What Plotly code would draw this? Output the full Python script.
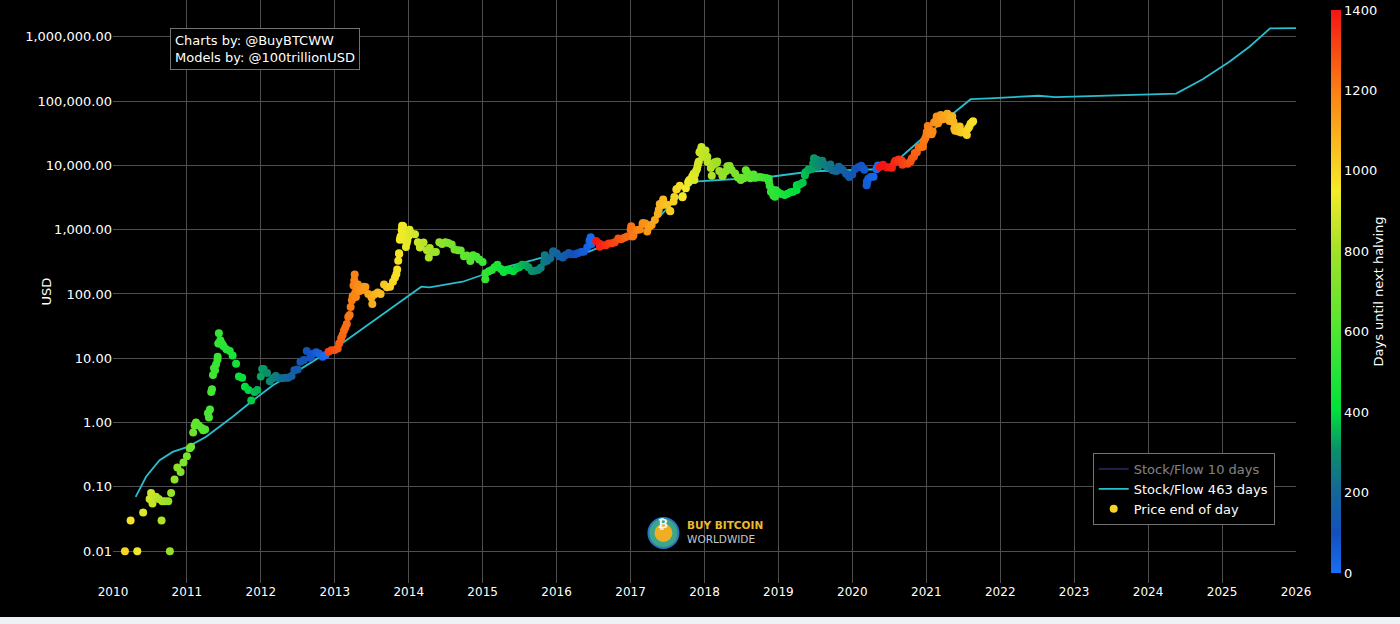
import numpy as np
import pandas as pd
import plotly.graph_objects as go

# ---------------- data ----------------
HALVINGS = ["2012-11-28", "2016-07-09", "2020-05-11", "2024-04-20"]

# sparse early prints (USD)
EARLY_DATES = ["2010-03-01", "2010-03-29", "2010-05-01", "2010-05-30", "2010-08-29", "2010-10-09"]
EARLY_PRICES = [0.01, 0.03, 0.01, 0.04, 0.03, 0.01]

# semi-monthly end-of-day prices (1st and 15th of each month)
P2010 = [0.065, 0.055, 0.07, 0.065, 0.06, 0.06, 0.06, 0.08, 0.13, 0.20, 0.17, 0.24]  # from Jul
P2011 = [0.30, 0.40, 0.70, 1.00, 0.90, 0.82, 0.78, 1.40, 3.0, 7.0, 9.5, 19.0,
         15.4, 13.8, 13.0, 11.0, 8.2, 5.2, 5.0, 3.6, 3.2, 2.2, 3.0, 3.2]
P2012 = [5.2, 6.8, 5.9, 4.4, 4.9, 5.3, 4.9, 4.9, 5.0, 5.0, 5.3, 6.5,
         6.7, 8.8, 9.4, 13.0, 10.2, 11.8, 12.4, 11.8, 10.6, 11.1, 12.6, 13.3]
P2013 = [13.4, 14.2, 20.4, 27.0, 34.0, 47.0, 93.0, 90.0, 110, 114, 128, 100,
         88, 98, 105, 100, 140, 127, 130, 155, 205, 420, 955, 870]
P2014 = [800, 870, 850, 640, 560, 630, 480, 520, 450, 450, 640, 600,
         640, 620, 590, 490, 480, 475, 385, 395, 325, 400, 380, 345]
P2015 = [315, 210, 225, 235, 260, 285, 245, 220, 235, 235, 225, 250,
         260, 285, 280, 260, 228, 230, 237, 255, 315, 330, 360, 445]
P2016 = [430, 385, 370, 405, 435, 415, 415, 430, 450, 455, 535, 690,
         675, 665, 605, 570, 575, 610, 615, 640, 730, 710, 750, 780]
P2017 = [1000, 820, 985, 1010, 1220, 1250, 1090, 1180, 1420, 1750, 2400, 2450,
         2450, 1950, 2750, 4200, 4800, 3300, 4400, 5700, 6700, 7300, 10900, 17500]
P2018 = [13500, 13600, 9100, 10200, 10900, 8200, 6900, 8000, 9200, 8500, 7500, 6500,
         6400, 6300, 7600, 6300, 7200, 6500, 6600, 6500, 6350, 5600, 4200, 3250]
P2019 = [3800, 3600, 3450, 3620, 3820, 3900, 4150, 5050, 5350, 7800, 8550, 8800,
         10500, 10900, 10400, 10300, 9750, 10300, 8300, 8150, 9150, 8500, 7400, 7100]
P2020 = [7200, 8800, 9400, 9900, 8550, 5400, 6600, 6650, 8800, 9400, 10200, 9450,
         9250, 9150, 11750, 11850, 11900, 10800, 10600, 11500, 13750, 15950, 19200, 19400]
P2021 = [29400, 36800, 33500, 48700, 49600, 55900, 59000, 62700,
         57800, 46700, 36700, 40200, 33500, 31800, 39900, 47000]  # to Aug

# additional daily prints (spikes, crashes, fast moves)
EXTRA_DATES = [
    "2010-07-08",
    "2011-01-22", "2011-02-08", "2011-03-22",
    "2011-04-20", "2011-04-25", "2011-05-05", "2011-05-10", "2011-05-20", "2011-05-25",
    "2011-06-02", "2011-06-05", "2011-06-08", "2011-06-11", "2011-06-19", "2011-06-25",
    "2012-01-08",
    "2013-01-22", "2013-02-08",
    "2013-02-22", "2013-03-08", "2013-03-20", "2013-03-26", "2013-03-30", "2013-04-03",
    "2013-04-07", "2013-04-09", "2013-04-12", "2013-04-20", "2013-04-25", "2013-05-05",
    "2013-05-25", "2013-07-05", "2013-10-25", "2013-11-05", "2013-11-10", "2013-11-14",
    "2013-11-18", "2013-11-21", "2013-11-24", "2013-11-27", "2013-11-29", "2013-12-04",
    "2013-12-07", "2013-12-10", "2013-12-18", "2013-12-22", "2013-12-25",
    "2014-01-05", "2014-02-25", "2014-04-10",
    "2015-01-14", "2015-11-04", "2015-12-16",
    "2016-06-12", "2016-06-18", "2016-06-22", "2016-08-02",
    "2017-01-04", "2017-01-11", "2017-03-03", "2017-03-24", "2017-05-20", "2017-05-25",
    "2017-06-11", "2017-07-16", "2017-08-05", "2017-08-17", "2017-09-14", "2017-10-12",
    "2017-10-20", "2017-11-08", "2017-11-12", "2017-11-20", "2017-11-25", "2017-11-28",
    "2017-12-04", "2017-12-07", "2017-12-11", "2017-12-13", "2017-12-17", "2017-12-20",
    "2017-12-22", "2017-12-26", "2017-12-29",
    "2018-01-06", "2018-01-16", "2018-02-06", "2018-02-20", "2018-03-05", "2018-03-30",
    "2018-04-24", "2018-05-05", "2018-06-29", "2018-07-24", "2018-09-05", "2018-11-14",
    "2018-11-19", "2018-11-25", "2018-12-07", "2018-12-20",
    "2019-04-02", "2019-05-12", "2019-05-30", "2019-06-22", "2019-06-26", "2019-07-02",
    "2019-07-10", "2019-07-17", "2019-08-06", "2019-08-29", "2019-09-24", "2019-10-26",
    "2019-12-17",
    "2020-03-12", "2020-03-13", "2020-03-20", "2020-04-29", "2020-05-07", "2020-07-27",
    "2020-08-17", "2020-09-05", "2020-10-21", "2020-11-05", "2020-11-24", "2020-12-05",
    "2020-12-17", "2020-12-20", "2020-12-27",
    "2021-01-03", "2021-01-08", "2021-01-11", "2021-01-22", "2021-01-27", "2021-02-08",
    "2021-02-21", "2021-02-28", "2021-03-13", "2021-03-25", "2021-04-14", "2021-04-25",
    "2021-05-09", "2021-05-12", "2021-05-19", "2021-05-23", "2021-06-08", "2021-06-22",
    "2021-07-20", "2021-07-26", "2021-08-07", "2021-08-20",
]
EXTRA_PRICES = [
    0.08,
    0.42, 0.90, 0.76,
    1.2, 1.6, 3.3, 5.5, 6.5, 8.0,
    10.6, 17.0, 24.5, 17.0, 17.5, 16.5,
    6.8,
    17.0, 23.0,
    30, 44, 63, 80, 92, 135,
    163, 200, 105, 120, 140, 115,
    130, 70, 180, 240, 330, 430,
    700, 770, 800, 1000, 1150, 1140,
    700, 900, 540, 620, 680,
    1000, 530, 370,
    170, 400, 460,
    670, 760, 600, 545,
    1130, 780, 1270, 940, 2050, 2500,
    2950, 1930, 3230, 4300, 3200, 5400,
    6000, 7400, 5900, 8200, 8800, 9900,
    11500, 16000, 16700, 16300, 19300, 16500,
    13800, 16000, 14500,
    17100, 11300, 6900, 11200, 11500, 6900,
    9700, 9800, 5900, 8400, 6400, 6200,
    4800, 3900, 3400, 4100,
    4900, 7000, 8600, 10700, 12900, 10600,
    12200, 9500, 11800, 9500, 8500, 9500,
    6600,
    4900, 5600, 6200, 8800, 9950, 11000,
    12300, 10200, 12800, 15600, 19100, 19100,
    23000, 24000, 26500,
    33000, 40800, 35500, 30800, 30400, 46300,
    57400, 45200, 61000, 52000, 63500, 49000,
    58200, 49100, 37000, 34700, 33500, 32500,
    29800, 37300, 44500, 48500,
]

# Stock/Flow model (463-day) line
SF_DATES = ["2010-04-23", "2010-06-14", "2010-08-19", "2010-10-23", "2011-01-05",
            "2011-04-06", "2011-08-15", "2011-11-22", "2012-03-01", "2012-07-09",
            "2012-11-18", "2013-01-23", "2014-03-04", "2014-04-13", "2014-09-24",
            "2015-01-01", "2015-04-28", "2015-09-06", "2015-12-13", "2016-06-10",
            "2016-12-24", "2017-05-23", "2017-11-10", "2018-11-14", "2019-04-10",
            "2019-06-18", "2020-05-12", "2020-08-04", "2020-11-24", "2021-04-23",
            "2021-08-08", "2021-11-07", "2022-07-09", "2022-10-01", "2023-06-21",
            "2024-05-19", "2024-09-27", "2025-02-06", "2025-05-16", "2025-08-26",
            "2026-01-01"]
SF_VALUES = [0.07, 0.145, 0.26, 0.35, 0.42,
             0.6, 1.23, 2.2, 3.8, 6.6,
             12, 16, 130, 127, 155,
             200, 265, 335, 410, 455,
             830, 1600, 5600, 6600, 7500,
             8100, 8700, 11500, 23500, 57000,
             107000, 110000, 121000, 115000, 121000,
             131000, 219000, 410000, 700000, 1350000,
             1360000]

Y_TICKS = [0.01, 0.1, 1, 10, 100, 1000, 10000, 100000, 1000000]
CB_TICKS = [0, 200, 400, 600, 800, 1000, 1200, 1400]

# ---------------- assemble price points ----------------
dates = []
prices = []
starts = [("2010-07-01", P2010), ("2011-01-01", P2011), ("2012-01-01", P2012),
          ("2013-01-01", P2013), ("2014-01-01", P2014), ("2015-01-01", P2015),
          ("2016-01-01", P2016), ("2017-01-01", P2017), ("2018-01-01", P2018),
          ("2019-01-01", P2019), ("2020-01-01", P2020), ("2021-01-01", P2021)]
for start, vals in starts:
    dates.extend(pd.date_range(start, periods=len(vals), freq="SMS"))
    prices.extend(vals)
dates.extend(pd.to_datetime(EARLY_DATES))
prices.extend(EARLY_PRICES)
dates.extend(pd.to_datetime(EXTRA_DATES))
prices.extend(EXTRA_PRICES)

df = pd.DataFrame({"date": pd.to_datetime(dates), "price": prices}).sort_values("date")
halv = pd.to_datetime(HALVINGS).values
idx = np.searchsorted(halv, df["date"].values, side="right")
df["days"] = [(pd.Timestamp(halv[i]) - d).days for i, d in zip(idx, df["date"])]

COLORSCALE = [
    [0.00, "rgb(25,110,245)"],
    [0.07, "rgb(20,80,190)"],
    [0.15, "rgb(20,105,150)"],
    [0.22, "rgb(10,145,105)"],
    [0.29, "rgb(0,225,60)"],
    [0.43, "rgb(80,230,50)"],
    [0.57, "rgb(160,225,40)"],
    [0.68, "rgb(245,235,40)"],
    [0.78, "rgb(250,175,30)"],
    [0.86, "rgb(250,125,20)"],
    [1.00, "rgb(245,20,20)"],
]

FONT = "DejaVu Sans, Verdana, sans-serif"
GRID = "rgb(78,78,78)"

fig = go.Figure()

fig.add_trace(go.Scatter(
    x=pd.to_datetime(SF_DATES), y=SF_VALUES, mode="lines",
    name="Stock/Flow 10 days", line=dict(color="rgb(70,60,150)", width=2),
    visible="legendonly"))

fig.add_trace(go.Scatter(
    x=pd.to_datetime(SF_DATES), y=SF_VALUES, mode="lines",
    name="Stock/Flow 463 days", line=dict(color="rgb(40,190,205)", width=1.8)))

fig.add_trace(go.Scatter(
    x=df["date"], y=df["price"], mode="markers", name="Price end of day",
    marker=dict(
        size=8, color=df["days"], cmin=0, cmax=1400, colorscale=COLORSCALE,
        line=dict(width=0),
        colorbar=dict(
            title=dict(text="Days until next halving", side="right",
                       font=dict(color="white", size=13, family=FONT)),
            tickvals=CB_TICKS, ticks="", outlinewidth=0,
            tickfont=dict(color="white", size=13, family=FONT),
            thickness=10, len=1, lenmode="fraction", y=0.5, yanchor="middle",
            x=1.03, xanchor="left", xpad=0, ypad=10,
        ),
    )))

fig.add_annotation(
    text="Charts by: @BuyBTCWW<br>Models by: @100trillionUSD",
    xref="paper", yref="paper", x=0.0482, y=0.952, xanchor="left", yanchor="top",
    align="left", showarrow=False, bgcolor="black", bordercolor="rgb(115,115,115)",
    borderwidth=1, borderpad=4, font=dict(color="white", size=13, family=FONT))

# y axis title placed as in the reference
fig.add_annotation(text="USD", xref="paper", yref="paper", x=-0.0558, y=0.5,
                   xanchor="center", yanchor="middle", textangle=-90, showarrow=False,
                   font=dict(color="white", size=13, family=FONT))

# logo
lx, ly = 0.4653, 0.0858
fig.add_shape(type="circle", xref="paper", yref="paper", xsizemode="pixel",
              ysizemode="pixel", xanchor=lx, yanchor=ly, x0=-15, x1=15, y0=-15, y1=15,
              fillcolor="rgb(60,165,140)", line=dict(color="rgb(40,120,190)", width=2))
fig.add_shape(type="circle", xref="paper", yref="paper", xsizemode="pixel",
              ysizemode="pixel", xanchor=lx, yanchor=ly, x0=-9, x1=9, y0=-9, y1=9,
              fillcolor="rgb(240,175,35)", line=dict(width=0))
fig.add_annotation(text="<b>₿</b>", xref="paper", yref="paper", x=lx, y=ly,
                   showarrow=False, font=dict(color="white", size=12, family=FONT))
fig.add_annotation(text="<b>BUY BITCOIN</b>", xref="paper", yref="paper",
                   x=0.4844, y=0.0995, xanchor="left", yanchor="middle", showarrow=False,
                   borderpad=0, font=dict(color="rgb(235,185,45)", size=10.5, family=FONT))
fig.add_annotation(text="WORLDWIDE", xref="paper", yref="paper",
                   x=0.4844, y=0.0755, xanchor="left", yanchor="middle", showarrow=False,
                   borderpad=0, font=dict(color="rgb(200,200,200)", size=10.5, family=FONT))

fig.update_layout(
    width=1400, height=617,
    margin=dict(l=113, r=104, t=0, b=34),
    paper_bgcolor="black", plot_bgcolor="black",
    font=dict(family=FONT, color="white", size=13),
    legend=dict(x=0.982, y=0.0995, xanchor="right", yanchor="bottom",
                bgcolor="black", bordercolor="rgb(115,115,115)", borderwidth=1,
                font=dict(color="white", size=13, family=FONT)),
    xaxis=dict(range=["2010-01-01", "2026-01-01"], dtick="M12", tickformat="%Y",
               showgrid=True, gridcolor=GRID, gridwidth=1, zeroline=False,
               tickfont=dict(color="white", size=12, family=FONT), showline=False),
    yaxis=dict(type="log", range=[-2.495, 6.572], tickvals=Y_TICKS, tickformat=",.2f",
               showgrid=True, gridcolor=GRID, gridwidth=1, zeroline=False,
               tickfont=dict(color="white", size=13, family=FONT)),
)

fig.write_html("out.html", config={"displayModeBar": False},
               post_script="document.body.style.margin='0';document.body.style.background='#eef1f5';")
